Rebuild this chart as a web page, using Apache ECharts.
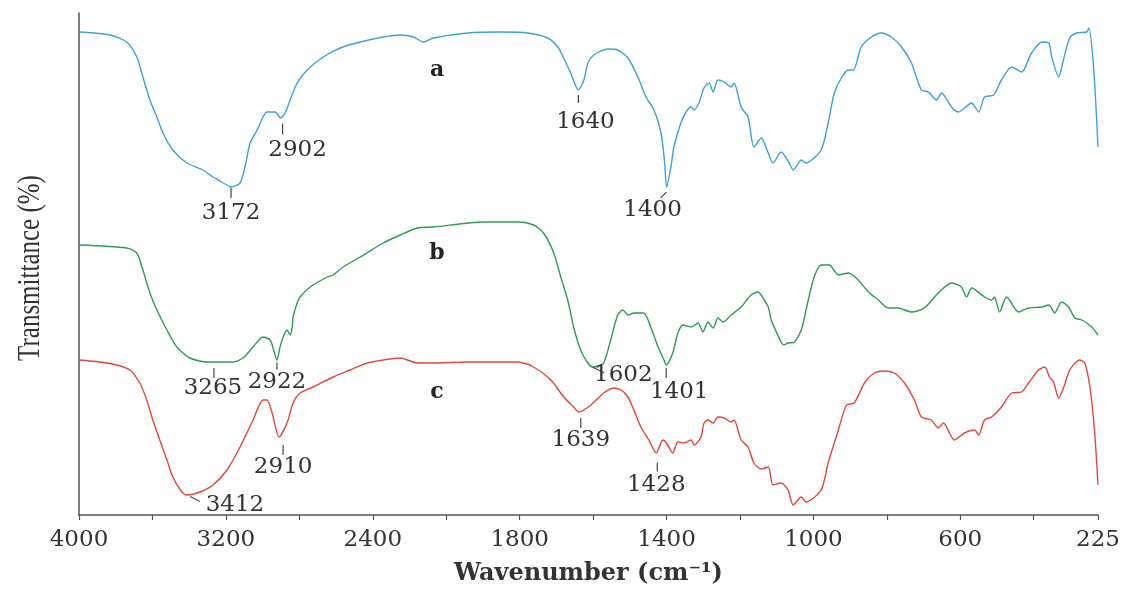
<!DOCTYPE html>
<html>
<head>
<meta charset="utf-8">
<script src="https://cdn.jsdelivr.net/npm/echarts@6/dist/echarts.min.js"></script>
<style>
  html, body { margin: 0; padding: 0; background: #fff; }
  #chart { width: 1123px; height: 592px; }
</style>
</head>
<body>
<div id="chart"></div>
<script>
// [wavenumber (cm-1), transmittance (a.u.)]
var specA = [
  [4000, 483], [3832, 480], [3740, 473], [3685, 458], [3652, 438], [3614, 415], [3576, 398], [3543, 382],
  [3489, 365], [3412, 352], [3325, 345], [3270, 338], [3194, 330], [3172, 328], [3123, 332], [3096, 348],
  [3068, 372], [3030, 385], [2998, 398], [2976, 403], [2932, 403], [2902, 397], [2877, 402], [2850, 415],
  [2812, 432], [2757, 445], [2670, 458], [2577, 467], [2468, 473], [2343, 478], [2250, 480], [2179, 478],
  [2124, 473], [2070, 477], [1942, 482], [1852, 483], [1778, 482], [1724, 477], [1696, 468], [1680, 457],
  [1661, 442], [1640, 425], [1625, 435], [1614, 452], [1598, 460], [1560, 466], [1533, 465], [1505, 457],
  [1478, 438], [1456, 418], [1434, 405], [1415, 382], [1405, 352], [1400, 328], [1388, 348], [1380, 368],
  [1361, 392], [1347, 403], [1333, 408], [1325, 405], [1312, 412], [1298, 427], [1284, 432], [1273, 423],
  [1260, 435], [1243, 433], [1224, 428], [1216, 432], [1197, 408], [1178, 398], [1162, 368], [1142, 377],
  [1123, 362], [1110, 352], [1088, 363], [1066, 352], [1055, 345], [1033, 355], [1020, 352], [979, 365],
  [960, 392], [943, 422], [924, 437], [905, 445], [891, 445], [870, 468], [842, 478], [815, 482],
  [788, 478], [760, 468], [733, 452], [706, 425], [687, 423], [665, 415], [651, 422], [624, 408],
  [605, 403], [569, 412], [550, 403], [534, 418], [509, 420], [488, 435], [460, 448], [433, 443],
  [406, 462], [378, 473], [359, 472], [351, 458], [332, 438], [318, 457], [302, 477], [283, 482],
  [256, 483], [250, 487], [237, 448], [225, 368]
]
var specB = [
  [4000, 270], [3740, 267], [3685, 262], [3652, 245], [3614, 222], [3576, 205], [3521, 185], [3467, 168],
  [3396, 157], [3303, 153], [3265, 153], [3161, 153], [3107, 157], [3052, 168], [2998, 178], [2959, 175],
  [2943, 167], [2922, 155], [2905, 168], [2888, 178], [2867, 185], [2850, 180], [2839, 188], [2834, 198],
  [2812, 212], [2796, 218], [2741, 228], [2648, 238], [2616, 240], [2561, 248], [2468, 258], [2343, 272],
  [2250, 280], [2157, 287], [2070, 288], [1898, 293], [1805, 293], [1762, 290], [1735, 282], [1707, 262],
  [1688, 238], [1669, 215], [1653, 188], [1634, 165], [1614, 152], [1602, 148], [1587, 149], [1571, 152],
  [1552, 175], [1533, 200], [1519, 205], [1505, 200], [1489, 202], [1462, 202], [1443, 188], [1423, 168],
  [1407, 155], [1401, 150], [1383, 162], [1369, 182], [1355, 190], [1333, 188], [1314, 192], [1301, 183],
  [1287, 193], [1273, 187], [1260, 197], [1246, 193], [1224, 200], [1197, 208], [1170, 220], [1151, 223],
  [1134, 215], [1123, 208], [1115, 195], [1107, 188], [1088, 173], [1080, 170], [1069, 172], [1052, 173],
  [1033, 185], [1014, 215], [998, 238], [979, 250], [957, 250], [932, 240], [905, 242], [878, 235],
  [850, 223], [823, 215], [796, 207], [769, 207], [733, 203], [698, 207], [660, 222], [624, 232],
  [597, 228], [583, 218], [569, 227], [534, 218], [515, 215], [507, 218], [493, 203], [474, 218],
  [441, 203], [414, 207], [378, 208], [359, 210], [343, 202], [324, 213], [305, 208], [288, 197],
  [269, 195], [242, 188], [225, 180]
]
var specC = [
  [4000, 155], [3887, 153], [3794, 150], [3723, 145], [3669, 132], [3631, 115], [3598, 95], [3560, 75],
  [3521, 55], [3489, 38], [3440, 23], [3412, 20], [3341, 23], [3270, 30], [3194, 45], [3123, 68],
  [3052, 95], [2998, 115], [2976, 115], [2948, 102], [2910, 78], [2867, 92], [2834, 112], [2796, 122],
  [2725, 128], [2616, 138], [2523, 145], [2430, 152], [2343, 155], [2250, 157], [2157, 152], [2070, 152],
  [1942, 153], [1805, 153], [1762, 148], [1715, 135], [1680, 118], [1653, 108], [1639, 103], [1606, 110],
  [1571, 122], [1544, 127], [1524, 125], [1505, 118], [1489, 105], [1470, 88], [1448, 75], [1428, 62],
  [1410, 75], [1400, 72], [1383, 62], [1369, 73], [1353, 72], [1333, 75], [1325, 70], [1306, 78],
  [1298, 92], [1287, 95], [1273, 92], [1260, 98], [1243, 97], [1224, 93], [1216, 95], [1197, 75],
  [1178, 68], [1162, 52], [1142, 46], [1123, 48], [1110, 30], [1088, 32], [1069, 25], [1055, 10],
  [1033, 18], [1020, 13], [979, 25], [960, 52], [932, 85], [910, 110], [889, 112], [861, 132],
  [834, 142], [807, 144], [780, 142], [752, 132], [725, 115], [706, 98], [679, 95], [660, 87],
  [646, 92], [616, 75], [589, 82], [561, 85], [550, 80], [534, 95], [515, 98], [488, 108],
  [460, 122], [433, 123], [414, 132], [387, 145], [370, 148], [357, 138], [346, 133], [332, 117],
  [318, 128], [302, 145], [275, 155], [261, 152], [247, 128], [234, 82], [225, 30]
]
var xTickLabels = [4000, 3200, 2400, 1800, 1400, 1000, 600, 225]
var peaksA = [3172, 2902, 1640, 1400]
var peaksB = [3265, 2922, 1602, 1401]
var peaksC = [3412, 2910, 1639, 1428]
var curveNames = ['a', 'b', 'c']

// x 轴在 2000 处变比例：2000 以上每大格 800，以下每大格 400
function toT(w) { return w >= 2000 ? (4000 - w) / 2 : 1000 + (2000 - w) }
function fromT(t) { return t <= 1000 ? 4000 - 2 * t : 2000 - (t - 1000) }

// 峰标注的位置（像素偏移）：tick = [dx, dy, 旋转, 长度], label = [dx, dy]
var peakLayout = {
  '3172': { tick: [0, 6, 0, 10], label: [0, 26] },
  '2902': { tick: [2, 11, 0, 11], label: [17, 32] },
  '1640': { tick: [0, 9, 0, 8], label: [7, 32] },
  '1400': { tick: [-3, 8, -45, 8], label: [-14, 23] },
  '3265': { tick: [0, 11, 0, 10], label: [-1, 26] },
  '2922': { tick: [0, 6, 0, 7], label: [0, 22] },
  '1602': { tick: [6, 3, 63, 13], label: [31, 8] },
  '1401': { tick: [0, 8, 0, 10], label: [13, 27] },
  '3412': { tick: [8, 4, 63, 11], label: [48, 10] },
  '2910': { tick: [4, 13, 0, 10], label: [4, 30] },
  '1639': { tick: [2, 11, 0, 10], label: [2, 28] },
  '1428': { tick: [1, 14, 0, 9], label: [0, 32] }
}
var nameCoord = [[2050, 445], [2050, 262], [2050, 123]]
var colors = ['#3ea1d3', '#2f9b55', '#e0473d']
var serif = 'DejaVu Serif'
var textColor = '#333'

function valueAt(spec, w) {
  for (var i = 0; i < spec.length; i++) {
    if (spec[i][0] === w) return spec[i][1]
  }
  return 0
}

function marks(spec, peaks, idx) {
  var out = []
  peaks.forEach(function(w) {
    var lay = peakLayout[String(w)]
    var coord = [toT(w), valueAt(spec, w)]
    out.push({
      name: '', coord: coord, symbol: 'rect',
      symbolSize: [1.2, lay.tick[3]],
      symbolOffset: [lay.tick[0], lay.tick[1]],
      symbolRotate: lay.tick[2],
      itemStyle: { color: '#444' },
      label: { show: false }
    })
    out.push({
      name: String(w), coord: coord, symbol: 'circle', symbolSize: 1,
      itemStyle: { color: 'rgba(0,0,0,0)' },
      label: {
        show: true, position: 'inside', offset: lay.label, formatter: '{b}',
        fontFamily: serif, fontSize: 23, color: textColor
      }
    })
  })
  // 曲线字母 a / b / c
  out.push({
    name: curveNames[idx], coord: [toT(nameCoord[idx][0]), nameCoord[idx][1]],
    symbol: 'circle', symbolSize: 1, itemStyle: { color: 'rgba(0,0,0,0)' },
    label: {
      show: true, position: 'inside', formatter: '{b}',
      fontFamily: serif, fontWeight: 'bold', fontSize: 22, color: '#222'
    }
  })
  return out
}

var specs = [specA, specB, specC]
var peaks = [peaksA, peaksB, peaksC]

var chart = echarts.init(document.getElementById('chart'))
chart.setOption({
  animation: false,
  backgroundColor: '#fff',
  grid: { left: 79, right: 25, top: 13, bottom: 77 },
  xAxis: {
    type: 'value',
    min: 0,
    max: toT(225),
    interval: 200,
    name: 'Wavenumber (cm⁻¹)',
    nameLocation: 'middle',
    nameGap: 47,
    nameTextStyle: { fontFamily: serif, fontWeight: 'bold', fontSize: 24, color: textColor },
    axisLine: { lineStyle: { color: '#555', width: 1.5 } },
    axisTick: { length: 5, lineStyle: { color: '#555', width: 1.2 } },
    axisLabel: {
      margin: 14,
      fontFamily: serif,
      fontSize: 23,
      color: textColor,
      formatter: function(t) {
        var w = Math.round(fromT(t))
        return xTickLabels.indexOf(w) >= 0 ? String(w) : ''
      }
    },
    splitLine: { show: false }
  },
  yAxis: {
    type: 'value',
    min: 0,
    max: 502,
    axisLine: { show: true, lineStyle: { color: '#555', width: 1.5 } },
    axisTick: { show: false },
    axisLabel: { show: false },
    splitLine: { show: false }
  },
  graphic: [{
    type: 'text',
    x: 30,
    y: 268,
    rotation: Math.PI / 2,
    scaleY: 1.3,
    style: {
      text: 'Transmittance (%)',
      font: '25px "Liberation Serif"',
      fill: textColor,
      align: 'center',
      verticalAlign: 'middle'
    }
  }],
  series: specs.map(function(spec, i) {
    return {
      type: 'line',
      name: curveNames[i],
      data: spec.map(function(p) { return [toT(p[0]), p[1]] }),
      symbol: 'none',
      smooth: 0.25,
      lineStyle: { color: colors[i], width: 1.4 },
      itemStyle: { color: colors[i] },
      markPoint: { silent: true, animation: false, data: marks(spec, peaks[i], i) }
    }
  })
})
</script>
</body>
</html>
